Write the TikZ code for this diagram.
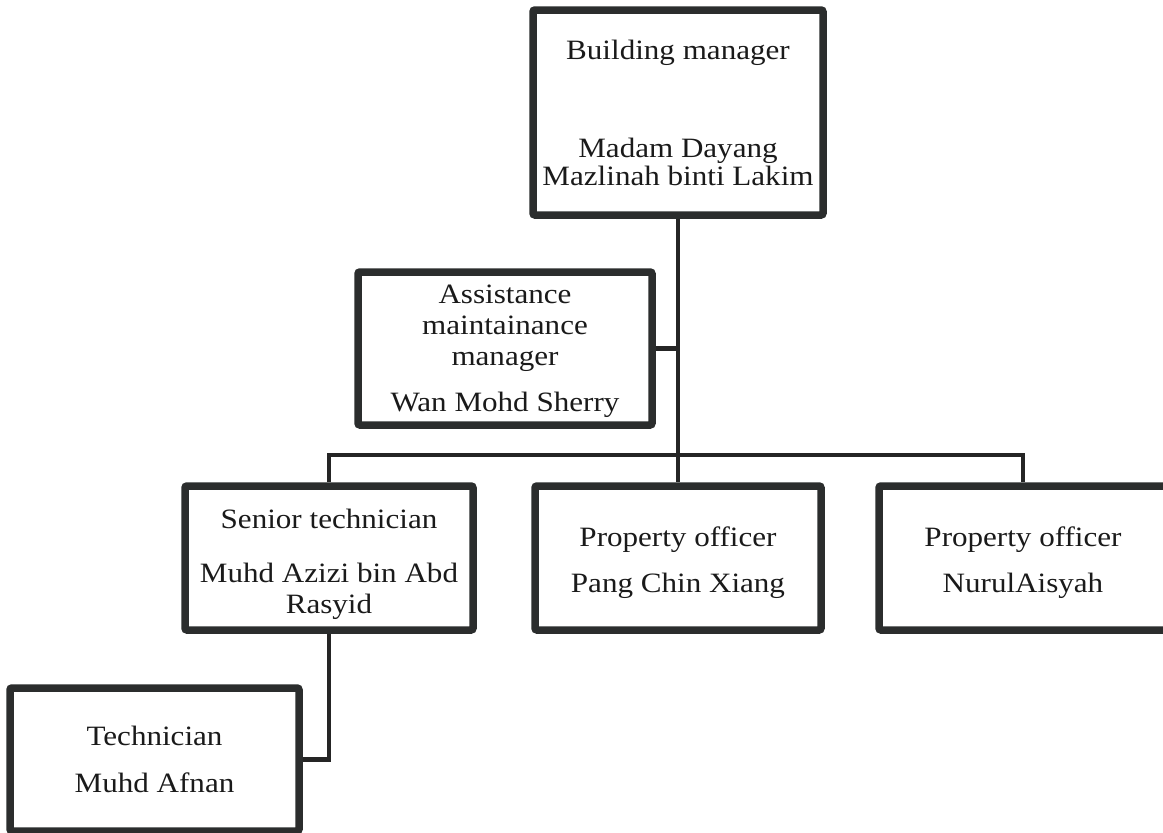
\documentclass[tikz,border=0pt]{standalone}
\usepackage{fontspec}
\setmainfont{Liberation Serif}[FakeStretch=1.11]
\usetikzlibrary{shadows}

% place a column of centred lines so that the first baseline sits #1 above the node centre
\newcommand{\boxlines}[2]{\raisebox{#1}[0pt][0pt]{\begin{tabular}[t]{@{}c@{}}#2\end{tabular}}}

\definecolor{boxgray}{HTML}{2B2D2D}
\definecolor{linegray}{HTML}{252525}
\definecolor{textgray}{HTML}{1A1A1A}

\tikzset{
  rolebox/.style={draw=boxgray, line width=7.5pt, rounded corners=2pt, fill=white,
    inner sep=0pt, font=\fontsize{28}{31}\selectfont, text=textgray,
    drop shadow={shadow xshift=0pt, shadow yshift=-3pt, opacity=0.12, fill=black}},
  link/.style={draw=linegray, line width=4.2pt},
}

\begin{document}
\begin{tikzpicture}[x=1pt, y=-1pt]
\useasboundingbox[fill=white] (0,0) rectangle (1163,833);

\coordinate (bus) at (678,455);

\node[rolebox, minimum width=290, minimum height=205] (mgr) at (678,112.5)
  {\boxlines{53.5pt}{Building manager\\[67pt] Madam Dayang\\[-3pt] Mazlinah binti Lakim}};

\node[rolebox, minimum width=294, minimum height=153] (asst) at (505,348.5)
  {\boxlines{45.5pt}{Assistance\\ maintainance\\ manager\\[15pt] Wan Mohd Sherry}};

\node[rolebox, minimum width=288, minimum height=144] (senior) at (329,558)
  {\boxlines{30pt}{Senior technician\\[23pt] Muhd Azizi bin Abd\\ Rasyid}};

\node[rolebox, minimum width=286, minimum height=144] (po1) at (678,558)
  {\boxlines{12pt}{Property officer\\[15pt] Pang Chin Xiang}};

\node[rolebox, minimum width=288, minimum height=144] (po2) at (1023,558)
  {\boxlines{12pt}{Property officer\\[15pt] NurulAisyah}};

\node[rolebox, minimum width=289, minimum height=143] (tech) at (154.5,759.5)
  {\boxlines{14.5pt}{Technician\\[16pt] Muhd Afnan}};

% reporting lines
\draw[link] (mgr.south) -- (po1.north);
\draw[link] (asst.east) -- (asst.east -| mgr.south);
\draw[link] (senior.north) |- (bus) -| (po2.north);
\draw[link] (senior.south) |- (tech.east);
\end{tikzpicture}
\end{document}
